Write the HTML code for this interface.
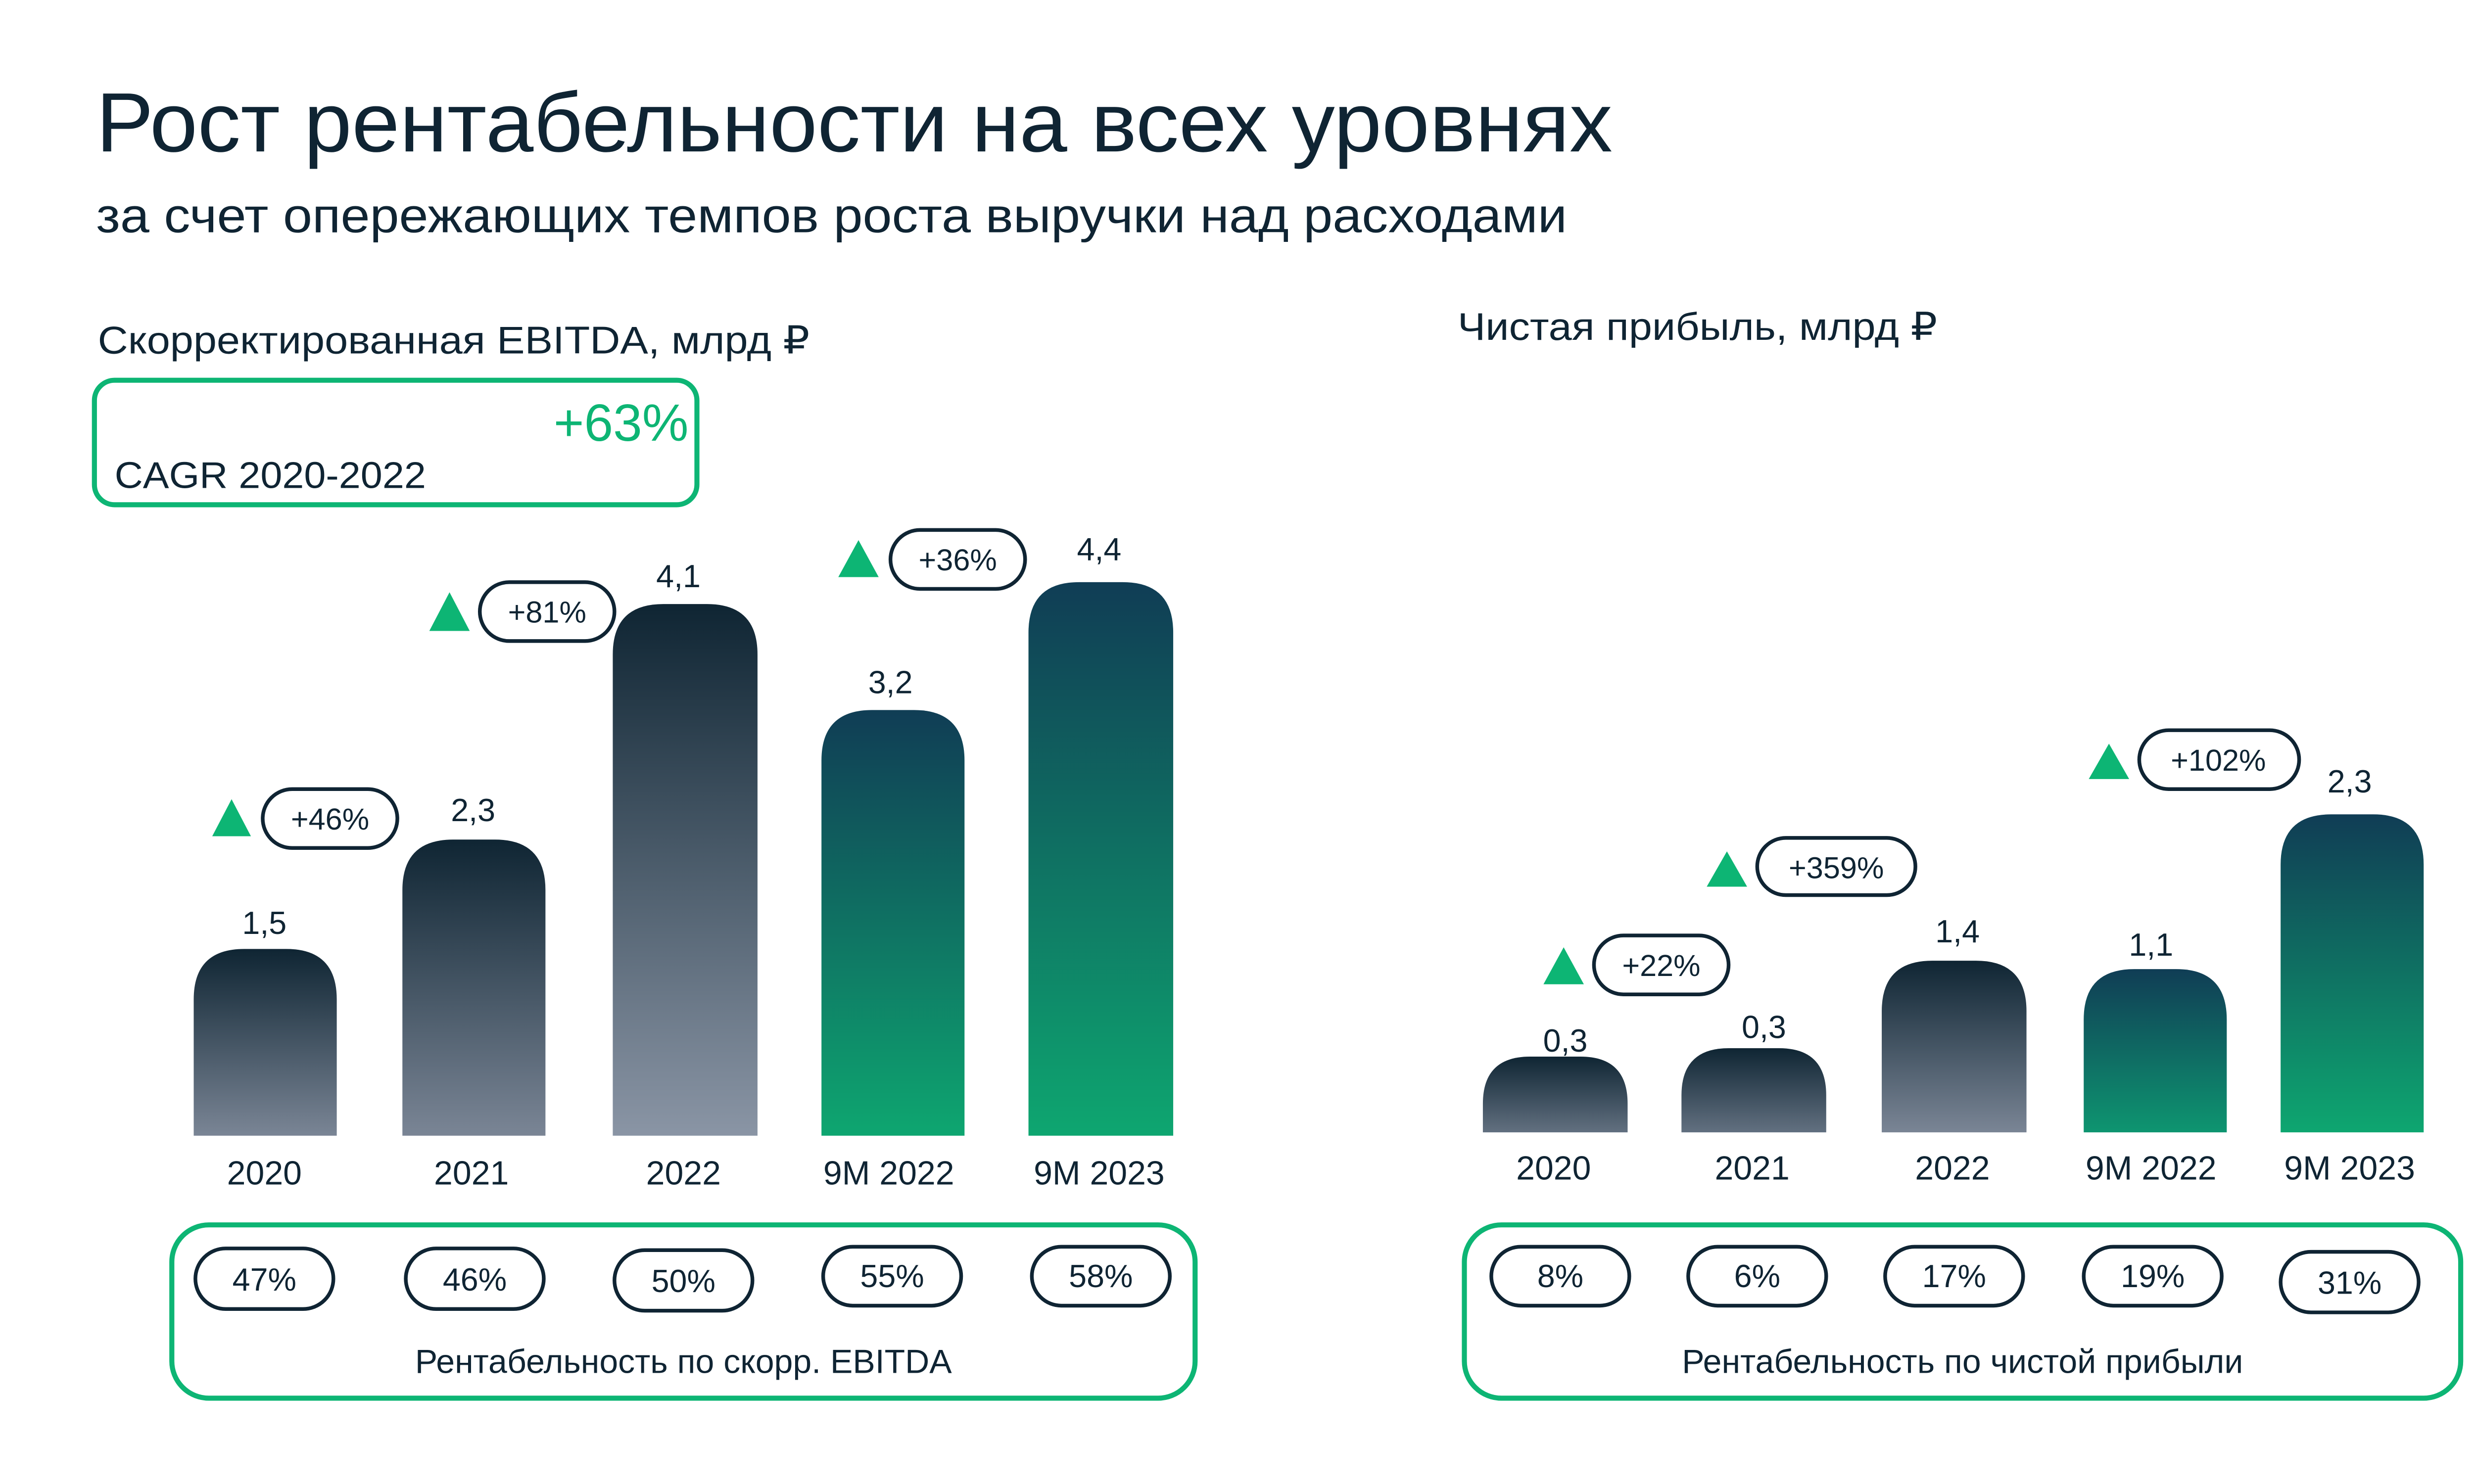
<!DOCTYPE html>
<html><head><meta charset="utf-8"><style>
html,body{margin:0;padding:0;background:#fff;}
svg{display:block;}
text{font-family:"Liberation Sans",sans-serif;fill:#0f2433;}
</style></head><body>
<svg width="5334" height="3000" viewBox="0 0 1568 882" xmlns="http://www.w3.org/2000/svg">
<defs>
<linearGradient id="dT" x1="0" y1="0" x2="0" y2="1"><stop offset="0" stop-color="#0f2533"/><stop offset="1" stop-color="#8a95a5"/></linearGradient>
<linearGradient id="dM" x1="0" y1="0" x2="0" y2="1"><stop offset="0" stop-color="#0f2533"/><stop offset="1" stop-color="#7a8595"/></linearGradient>
<linearGradient id="dS" x1="0" y1="0" x2="0" y2="1"><stop offset="0" stop-color="#0f2533"/><stop offset="1" stop-color="#627080"/></linearGradient>
<linearGradient id="gT" x1="0" y1="0" x2="0" y2="1"><stop offset="0" stop-color="#103d55"/><stop offset="1" stop-color="#0ea670"/></linearGradient>
<linearGradient id="gS" x1="0" y1="0" x2="0" y2="1"><stop offset="0" stop-color="#103d55"/><stop offset="1" stop-color="#0e9570"/></linearGradient>
</defs>

<text x="57" y="90" font-size="50" textLength="901" lengthAdjust="spacingAndGlyphs">Рост рентабельности на всех уровнях</text>
<text x="57" y="138" font-size="29" textLength="874" lengthAdjust="spacingAndGlyphs">за счет опережающих темпов роста выручки над расходами</text>
<text x="58" y="210" font-size="23" textLength="423" lengthAdjust="spacingAndGlyphs">Скорректированная EBITDA, млрд ₽</text>
<text x="866" y="202" font-size="23" textLength="285" lengthAdjust="spacingAndGlyphs">Чистая прибыль, млрд ₽</text>

<rect x="56" y="226" width="358" height="74" rx="12" fill="none" stroke="#0db574" stroke-width="3"/>
<text x="409" y="262" font-size="31" text-anchor="end" style="fill:#0db574">+63%</text>
<text x="68" y="290" font-size="22" textLength="185" lengthAdjust="spacingAndGlyphs">CAGR 2020-2022</text>

<!-- left bars -->
<g>
<path d="M115,675 V594 Q115,564 145,564 H170 Q200,564 200,594 V675Z" fill="url(#dM)"/>
<path d="M239,675 V529 Q239,499 269,499 H294 Q324,499 324,529 V675Z" fill="url(#dM)"/>
<path d="M364,675 V389 Q364,359 394,359 H420 Q450,359 450,389 V675Z" fill="url(#dT)"/>
<path d="M488,675 V452 Q488,422 518,422 H543 Q573,422 573,452 V675Z" fill="url(#gT)"/>
<path d="M611,675 V376 Q611,346 641,346 H667 Q697,346 697,376 V675Z" fill="url(#gT)"/>
</g>
<g font-size="19" text-anchor="middle">
<text x="157" y="555">1,5</text>
<text x="281" y="488">2,3</text>
<text x="403" y="349">4,1</text>
<text x="529" y="412">3,2</text>
<text x="653" y="333">4,4</text>
</g>
<g font-size="20" text-anchor="middle">
<text x="157" y="704">2020</text>
<text x="280" y="704">2021</text>
<text x="406" y="704">2022</text>
<text x="528" y="704">9M 2022</text>
<text x="653" y="704">9M 2023</text>
</g>
<!-- left badges -->
<g fill="none" stroke="#0f2433" stroke-width="2.2">
<rect x="156" y="469" width="80" height="35" rx="17.5"/>
<rect x="285" y="346" width="80" height="35" rx="17.5"/>
<rect x="529" y="315" width="80" height="35" rx="17.5"/>
</g>
<g fill="#0db574">
<polygon points="126,497 149,497 137.5,475"/>
<polygon points="255,375 279,375 267,352"/>
<polygon points="498,343 522,343 510,321"/>
</g>
<g font-size="18" text-anchor="middle">
<text x="196" y="493">+46%</text>
<text x="325" y="370">+81%</text>
<text x="569" y="339">+36%</text>
</g>

<!-- right bars -->
<g>
<path d="M881,673 V656 Q881,628 909,628 H939 Q967,628 967,656 V673Z" fill="url(#dS)"/>
<path d="M999,673 V651 Q999,623 1027,623 H1057 Q1085,623 1085,651 V673Z" fill="url(#dS)"/>
<path d="M1118,673 V601 Q1118,571 1148,571 H1174 Q1204,571 1204,601 V673Z" fill="url(#dM)"/>
<path d="M1238,673 V606 Q1238,576 1268,576 H1293 Q1323,576 1323,606 V673Z" fill="url(#gS)"/>
<path d="M1355,673 V514 Q1355,484 1385,484 H1410 Q1440,484 1440,514 V673Z" fill="url(#gT)"/>
</g>
<g font-size="19" text-anchor="middle">
<text x="930" y="625">0,3</text>
<text x="1048" y="617">0,3</text>
<text x="1163" y="560">1,4</text>
<text x="1278" y="568">1,1</text>
<text x="1396" y="471">2,3</text>
</g>
<g font-size="20" text-anchor="middle">
<text x="923" y="701">2020</text>
<text x="1041" y="701">2021</text>
<text x="1160" y="701">2022</text>
<text x="1278" y="701">9M 2022</text>
<text x="1396" y="701">9M 2023</text>
</g>
<g fill="none" stroke="#0f2433" stroke-width="2.2">
<rect x="947" y="556" width="80" height="35" rx="17.5"/>
<rect x="1044" y="498" width="94" height="34" rx="17"/>
<rect x="1271" y="434" width="95" height="35" rx="17.5"/>
</g>
<g fill="#0db574">
<polygon points="917,585 941,585 929,563"/>
<polygon points="1014,527 1038,527 1026,506"/>
<polygon points="1241,463 1265,463 1253,442"/>
</g>
<g font-size="18" text-anchor="middle">
<text x="987" y="580">+22%</text>
<text x="1091" y="522">+359%</text>
<text x="1318" y="458">+102%</text>
</g>

<!-- bottom boxes -->
<rect x="102" y="728" width="608" height="103" rx="22" fill="none" stroke="#0db574" stroke-width="3"/>
<rect x="870" y="728" width="592" height="103" rx="22" fill="none" stroke="#0db574" stroke-width="3"/>
<g fill="none" stroke="#0f2433" stroke-width="2.2">
<rect x="116" y="742" width="82" height="36" rx="18"/>
<rect x="241" y="742" width="82" height="36" rx="18"/>
<rect x="365" y="743" width="82" height="36" rx="18"/>
<rect x="489" y="741" width="82" height="35" rx="17.5"/>
<rect x="613" y="741" width="82" height="35" rx="17.5"/>
<rect x="886" y="741" width="82" height="35" rx="17.5"/>
<rect x="1003" y="741" width="82" height="35" rx="17.5"/>
<rect x="1120" y="741" width="82" height="35" rx="17.5"/>
<rect x="1238" y="741" width="82" height="35" rx="17.5"/>
<rect x="1355" y="744" width="82" height="36" rx="18"/>
</g>
<g font-size="19" text-anchor="middle">
<text x="157" y="767">47%</text>
<text x="282" y="767">46%</text>
<text x="406" y="768">50%</text>
<text x="530" y="765">55%</text>
<text x="654" y="765">58%</text>
<text x="927" y="765">8%</text>
<text x="1044" y="765">6%</text>
<text x="1161" y="765">17%</text>
<text x="1279" y="765">19%</text>
<text x="1396" y="769">31%</text>
</g>
<g font-size="20" text-anchor="middle">
<text x="406" y="816">Рентабельность по скорр. EBITDA</text>
<text x="1166" y="816">Рентабельность по чистой прибыли</text>
</g>
<text x="1500" y="849" font-size="16" text-anchor="middle">5</text>
</svg>
</body></html>
